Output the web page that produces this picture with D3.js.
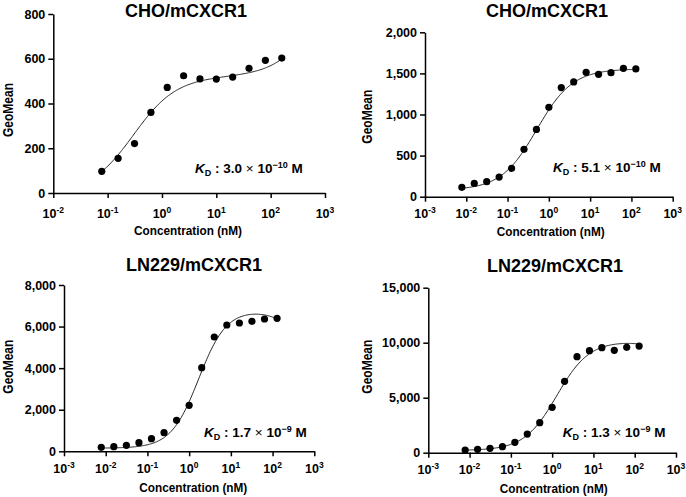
<!doctype html>
<html lang="en">
<head>
  <meta charset="utf-8">
  <title>mCXCR1 binding</title>
  <script src="https://d3js.org/d3.v7.min.js"></script>
  <style>
    body { margin: 0; background: #fff; }
    text { font-family: "Liberation Sans", Arial, Helvetica, sans-serif; font-weight: bold; fill: #000; }
  </style>
</head>
<body>
  <div id="chart"></div>
  <script>
  var width = 686, height = 497;

  // concentrations (nM), 2-fold dilutions
  var conc12 = [0.078, 0.156, 0.3125, 0.625, 1.25, 2.5, 5, 10, 20, 40, 80, 160];
  var conc15 = [0.0078125, 0.015625, 0.03125, 0.0625, 0.125, 0.25, 0.5, 1, 2, 4, 8, 16, 32, 64, 128];

  // GeoMean values
  var choA = [97, 155, 221, 360, 472, 524, 510, 509, 518, 557, 593, 603];
  var choB = [114, 162, 183, 239, 345, 576, 819, 1087, 1327, 1396, 1513, 1489, 1509, 1562, 1554];
  var lnA  = [192, 224, 289, 417, 609, 898, 1491, 2212, 4024, 5499, 6076, 6172, 6252, 6365, 6397];
  var lnB  = [242, 303, 394, 545, 939, 1697, 2727, 4121, 6485, 8727, 9273, 9545, 9303, 9576, 9697];

  var titles = ['CHO/mCXCR1', 'CHO/mCXCR1', 'LN229/mCXCR1', 'LN229/mCXCR1'];
  var kdMant = ['3.0', '5.1', '1.7', '1.3'];
  var kdExp  = ['\u221210', '\u221210', '\u22129', '\u22129'];

  var yTicksA = [0, 200, 400, 600, 800];
  var yTicksB = [0, 500, 1000, 1500, 2000];
  var yTicksC = [0, 2000, 4000, 6000, 8000];
  var yTicksD = [0, 5000, 10000, 15000];
  var xTicksA = [1e-2, 1e-1, 1e0, 1e1, 1e2, 1e3];
  var xTicksB = [1e-3, 1e-2, 1e-1, 1e0, 1e1, 1e2, 1e3];

  // fitted curve params: bottom, span, K (nM), hill, linear term
  var fitA = [0, 520, 0.30, 1.1, 0.5];
  var fitB = [80, 1475, 0.51, 1.0, 0];
  var fitC = [150, 6700, 1.7, 1.3, -3.6];
  var fitD = [200, 10000, 1.3, 1.1, -2];

  // layout of each panel (pixels)
  var boxes = [
    {l: 53.3, r: 325, t: 14, b: 193, xl: 24.5, tx: 186, ty: 16.5, gx: 13, gy: 110, cx: 188, cy: 235, kx: 195, ky: 173},
    {l: 425, r: 672.7, t: 32.3, b: 196.7, xl: 21.5, tx: 547, ty: 17, gx: 372, gy: 116.7, cx: 550.7, cy: 235.5, kx: 553, ky: 172},
    {l: 64, r: 314.3, t: 285, b: 451.3, xl: 21.5, tx: 194, ty: 270.7, gx: 13, gy: 366.7, cx: 193.3, cy: 492, kx: 204, ky: 437},
    {l: 428.3, r: 676, t: 287.7, b: 452.7, xl: 21, tx: 555, ty: 271.7, gx: 372.3, gy: 366.7, cx: 553.7, cy: 492.5, kx: 562.7, ky: 437.3}
  ];

  var panels = [
    {x: conc12, y: choA, yTicks: yTicksA, xTicks: xTicksA, fit: fitA},
    {x: conc15, y: choB, yTicks: yTicksB, xTicks: xTicksB, fit: fitB},
    {x: conc15, y: lnA,  yTicks: yTicksC, xTicks: xTicksB, fit: fitC},
    {x: conc15, y: lnB,  yTicks: yTicksD, xTicks: xTicksB, fit: fitD}
  ];

  var svg = d3.select('#chart')
              .append('svg')
              .attr('width', width)
              .attr('height', height);

  function model(f, c) {
    return f[0] + f[1] / (1 + Math.pow(f[2] / c, f[3])) + f[4] * c;
  }

  panels.forEach(function(p, i) {
    var b = boxes[i];
    var g = svg.append('g');

    var x = d3.scaleLog()
              .domain([p.xTicks[0], p.xTicks[p.xTicks.length - 1]])
              .range([b.l, b.r]);
    var y = d3.scaleLinear()
              .domain([0, p.yTicks[p.yTicks.length - 1]])
              .range([b.b, b.t]);

    // x axis
    var gx = g.append('g')
              .attr('transform', 'translate(0,' + b.b + ')')
              .call(d3.axisBottom(x).tickValues(p.xTicks).tickSize(5).tickSizeOuter(0).tickFormat(''));
    // y axis
    var gy = g.append('g')
              .attr('transform', 'translate(' + b.l + ',0)')
              .call(d3.axisLeft(y).tickValues(p.yTicks).tickSize(5).tickSizeOuter(0).tickFormat(d3.format(',')));

    [gx, gy].forEach(function(a) {
      a.select('.domain').attr('stroke', '#000').attr('stroke-width', 1.5);
      a.selectAll('.tick line').attr('stroke', '#000').attr('stroke-width', 1.5);
    });
    gy.selectAll('.tick text')
      .attr('font-size', 12.5)
      .attr('font-family', null);

    // x tick labels 10^n
    var xl = g.selectAll('.xlab')
              .data(p.xTicks)
              .enter()
              .append('text')
              .attr('class', 'xlab')
              .attr('x', function(d) { return x(d); })
              .attr('y', b.b + b.xl)
              .attr('text-anchor', 'middle')
              .attr('font-size', 12.5);
    xl.append('tspan').text('10');
    xl.append('tspan')
      .attr('dy', -5)
      .attr('font-size', 8.5)
      .text(function(d) { return String(Math.round(Math.log10(d))); });

    // fitted curve
    var n = 200, lo = Math.log10(p.x[0]), hi = Math.log10(p.x[p.x.length - 1]);
    var curve = d3.range(n + 1).map(function(k) { return Math.pow(10, lo + (hi - lo) * k / n); });
    g.append('path')
     .datum(curve)
     .attr('fill', 'none')
     .attr('stroke', '#222')
     .attr('stroke-width', 1)
     .attr('d', d3.line()
                  .x(function(c) { return x(c); })
                  .y(function(c) { return y(model(p.fit, c)); }));

    // points
    g.selectAll('.dot')
     .data(p.x)
     .enter()
     .append('circle')
     .attr('class', 'dot')
     .attr('cx', function(d) { return x(d); })
     .attr('cy', function(d, j) { return y(p.y[j]); })
     .attr('r', 3.6)
     .attr('fill', '#000');

    // titles
    g.append('text')
     .attr('x', b.tx).attr('y', b.ty)
     .attr('text-anchor', 'middle')
     .attr('font-size', 18)
     .text(titles[i]);

    // axis titles look slightly condensed in the original
    g.append('text')
     .attr('transform', 'translate(' + b.gx + ',' + b.gy + ') rotate(-90)')
     .attr('text-anchor', 'middle')
     .attr('font-size', 14)
     .attr('textLength', 54)
     .attr('lengthAdjust', 'spacingAndGlyphs')
     .text('GeoMean');

    g.append('text')
     .attr('x', b.cx).attr('y', b.cy)
     .attr('text-anchor', 'middle')
     .attr('font-size', 13.5)
     .attr('textLength', 108)
     .attr('lengthAdjust', 'spacingAndGlyphs')
     .text('Concentration (nM)');

    // KD label
    var kd = g.append('text')
              .attr('x', b.kx).attr('y', b.ky)
              .attr('font-size', 13.5);
    kd.append('tspan').attr('font-style', 'italic').text('K');
    kd.append('tspan').attr('font-size', 9).attr('dy', 3).text('D');
    kd.append('tspan').attr('dy', -3).text(' : ' + kdMant[i] + ' ');
    kd.append('tspan').attr('font-weight', 'normal').text('\u00d7');
    kd.append('tspan').text(' 10');
    kd.append('tspan').attr('font-size', 9).attr('dy', -5.5).text(kdExp[i]);
    kd.append('tspan').attr('dy', 5.5).text(' M');
  });
  </script>
</body>
</html>
